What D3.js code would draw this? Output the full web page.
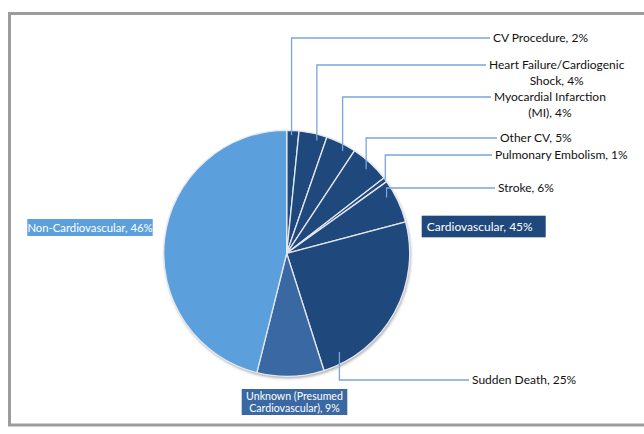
<!DOCTYPE html>
<html>
<head>
<meta charset="utf-8" />
<title>Causes of death</title>
<script src="https://cdn.jsdelivr.net/npm/d3@7"></script>
<style>
    body { margin: 0; background: #fff; }
    #chart text { font-family: Lato, "Open Sans", sans-serif; }
</style>
</head>
<body>
<div id="chart"></div>
<script>
    // Data, clockwise from 12 o'clock (shares)
    var categories = ["CV Procedure", "Heart Failure/Cardiogenic Shock", "Myocardial Infarction (MI)",
        "Other CV", "Pulmonary Embolism", "Stroke", "Sudden Death",
        "Unknown (Presumed Cardiovascular)", "Non-Cardiovascular"]
    var shares = [1.6, 3.7, 4.0, 5.2, 0.6, 5.8, 24.2, 8.8, 46.1]
    var groups = ["cv", "cv", "cv", "cv", "cv", "cv", "cv", "unknown", "noncv"]
    var labelLines = [
        ["CV Procedure, 2%"],
        ["Heart Failure/Cardiogenic", "Shock, 4%"],
        ["Myocardial Infarction", "(MI), 4%"],
        ["Other CV, 5%"],
        ["Pulmonary Embolism, 1%"],
        ["Stroke, 6%"],
        ["Sudden Death, 25%"],
        ["Unknown (Presumed", "Cardiovascular), 9%"],
        ["Non-Cardiovascular, 46%"]
    ]
    var groupLabel = "Cardiovascular, 45%"

    var colors = { cv: "#1f487c", unknown: "#3a68a2", noncv: "#5b9fdc" }

    // Layout
    var width = 644, height = 434
    var cx = 286.7, cy = 253.3, R = 123

    // leader lines: where they leave the slice and where the label sits
    var leaders = [
        { frac: 0.41, r: 0.96, ly: 38, lx: 493 },
        { frac: 0.69, r: 0.95, ly: 65, lx: 489 },
        { frac: 0.66, r: 0.95, ly: 97, lx: 494 },
        { frac: 0.53, r: 0.94, ly: 138, lx: 500 },
        { frac: 0.5, r: 1.0, ly: 155, lx: 495 },
        { frac: 0.31, r: 0.93, ly: 188, lx: 498 },
        { frac: 0.88, r: 0.91, ly: 380, lx: 472 }
    ]

    var svg = d3.select("#chart")
        .append("svg")
        .attr("width", width)
        .attr("height", height)

    // frame
    svg.append("rect")
        .attr("x", 9.5).attr("y", 13.5)
        .attr("width", 700).attr("height", 411.5)
        .attr("fill", "none")
        .attr("stroke", "#9c9c9c")
        .attr("stroke-width", 3)

    var defs = svg.append("defs")
    var shadow = defs.append("filter").attr("id", "shadow")
        .attr("x", "-10%").attr("y", "-10%").attr("width", "120%").attr("height", "120%")
    shadow.append("feDropShadow")
        .attr("dx", 1).attr("dy", 2).attr("stdDeviation", 1.5)
        .attr("flood-color", "#000").attr("flood-opacity", 0.35)

    var pie = d3.pie().sort(null).value(function(d) { return d })
    var arcs = pie(shares)
    var arc = d3.arc().innerRadius(0).outerRadius(R)

    var g = svg.append("g").attr("transform", "translate(" + cx + "," + cy + ")")

    g.append("circle").attr("r", R).attr("fill", "#fff").attr("filter", "url(#shadow)")

    g.selectAll("path.slice")
        .data(arcs)
        .enter().append("path")
        .attr("class", "slice")
        .attr("d", arc)
        .attr("fill", function(d, i) { return colors[groups[i]] })
        .attr("stroke", "#e4e8ee")
        .attr("stroke-width", 1.3)
        .attr("stroke-linejoin", "round")

    // leader lines and outside labels
    leaders.forEach(function(l, i) {
        var a = arcs[i]
        var ang = a.startAngle + (a.endAngle - a.startAngle) * l.frac
        var x0 = cx + Math.sin(ang) * R * l.r
        var y0 = cy - Math.cos(ang) * R * l.r
        svg.append("path")
            .attr("d", "M" + x0 + "," + y0 + "V" + l.ly + "H" + (l.lx - 3))
            .attr("fill", "none")
            .attr("stroke", "#7aa5db")
            .attr("stroke-width", 1.3)

        var lines = labelLines[i]
        var t0 = svg.append("text")
            .attr("x", l.lx).attr("y", l.ly).attr("dy", "0.36em")
            .attr("font-size", 12).attr("fill", "#111")
            .text(lines[0])
        if (lines.length > 1) {
            var mid = l.lx + t0.node().getComputedTextLength() / 2
            svg.append("text")
                .attr("x", mid).attr("y", l.ly + 16).attr("dy", "0.36em")
                .attr("text-anchor", "middle")
                .attr("font-size", 12).attr("fill", "#111")
                .text(lines[1])
        }
    })

    // boxed labels
    function boxLabel(lines, bx, by, bw, bh, fill, size, lineH) {
        svg.append("rect")
            .attr("x", bx).attr("y", by).attr("width", bw).attr("height", bh)
            .attr("fill", fill)
        var top = by + bh / 2 - (lines.length - 1) * lineH / 2
        lines.forEach(function(s, k) {
            svg.append("text")
                .attr("x", bx + bw / 2).attr("y", top + k * lineH).attr("dy", "0.36em")
                .attr("text-anchor", "middle")
                .attr("font-size", size).attr("fill", "#fff")
                .text(s)
        })
    }

    boxLabel(labelLines[8], 27.3, 219, 125.4, 17, colors.noncv, 11.3, 13)
    boxLabel(labelLines[7], 241.7, 389, 105.6, 26, colors.unknown, 10.6, 12.5)

    svg.append("rect")
        .attr("x", 421.7).attr("y", 215.7).attr("width", 124).attr("height", 21.6)
        .attr("fill", colors.cv)
    svg.append("text")
        .attr("x", 426.7).attr("y", 226.5).attr("dy", "0.36em")
        .attr("font-size", 12).attr("fill", "#fff")
        .text(groupLabel)
</script>
</body>
</html>
